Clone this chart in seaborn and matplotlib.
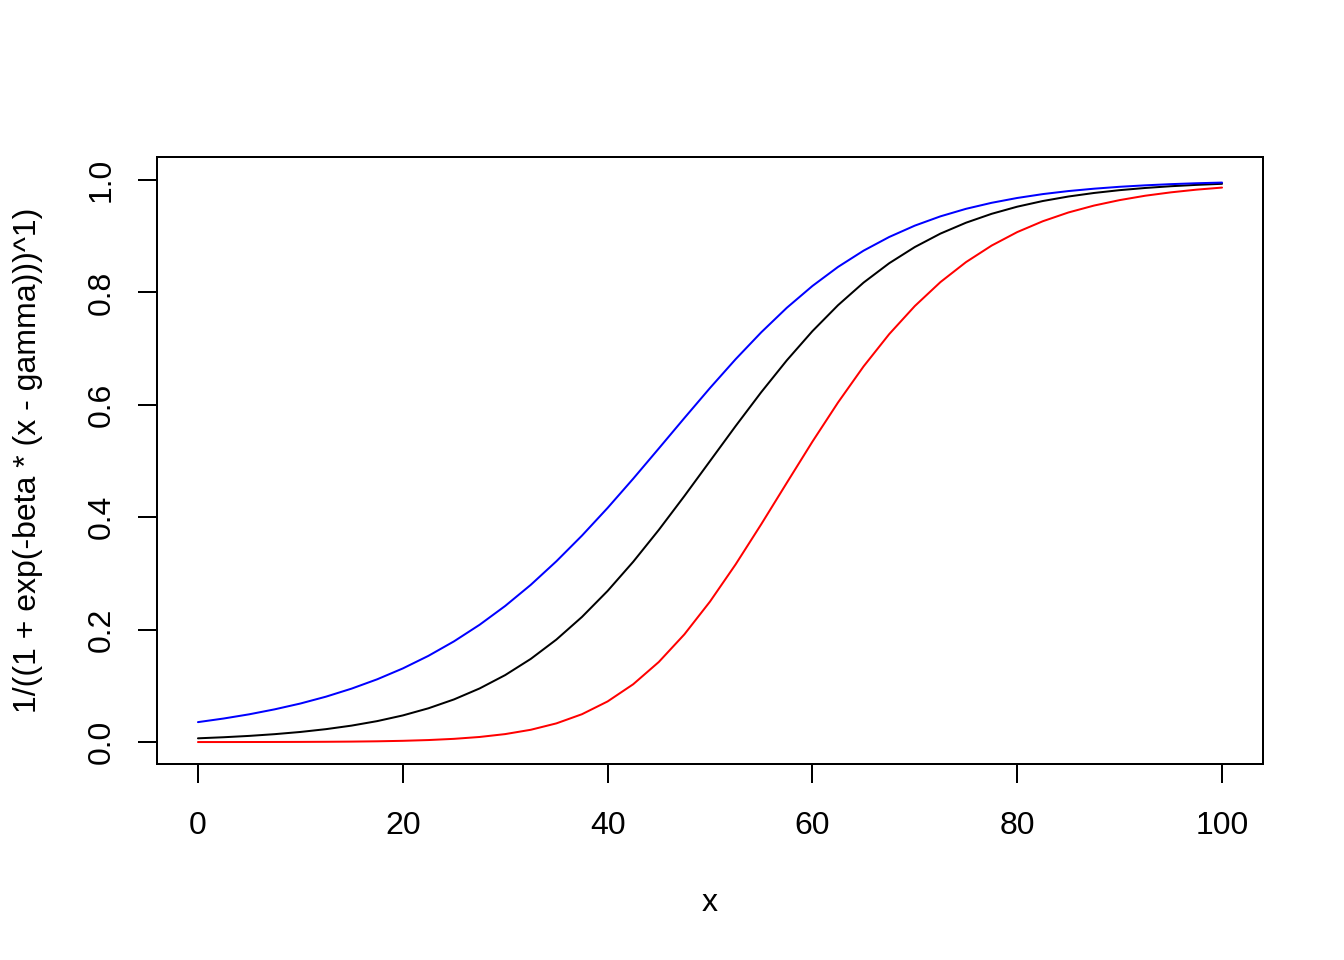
import matplotlib
matplotlib.use("Agg")
import matplotlib.pyplot as plt
import seaborn as sns
import pandas as pd

# values (x step 2.5)
x_vals = [0, 2.5, 5, 7.5, 10, 12.5, 15, 17.5, 20, 22.5, 25, 27.5, 30, 32.5, 35, 37.5, 40, 42.5, 45, 47.5,
          50, 52.5, 55, 57.5, 60, 62.5, 65, 67.5, 70, 72.5, 75, 77.5, 80, 82.5, 85, 87.5, 90, 92.5, 95, 97.5, 100]
black_vals = [0.0067, 0.0086, 0.0110, 0.0141, 0.0180, 0.0230, 0.0293, 0.0373, 0.0474, 0.0601, 0.0759,
              0.0954, 0.1192, 0.1480, 0.1824, 0.2227, 0.2689, 0.3208, 0.3775, 0.4378, 0.5000,
              0.5622, 0.6225, 0.6792, 0.7311, 0.7773, 0.8176, 0.8520, 0.8808, 0.9047, 0.9241,
              0.9399, 0.9526, 0.9627, 0.9707, 0.9770, 0.9820, 0.9859, 0.9890, 0.9914, 0.9933]
red_vals = [0.00005, 0.00007, 0.00012, 0.00020, 0.00032, 0.00053, 0.00086, 0.00139, 0.00225, 0.00361, 0.00576,
            0.00909, 0.01421, 0.02190, 0.03327, 0.04960, 0.0723, 0.1029, 0.1425, 0.1917, 0.2500,
            0.3161, 0.3875, 0.4613, 0.5345, 0.6042, 0.6685, 0.7259, 0.7758, 0.8184, 0.8540,
            0.8834, 0.9074, 0.9267, 0.9423, 0.9546, 0.9643, 0.9721, 0.9781, 0.9829, 0.9866]
blue_vals = [0.0355, 0.0419, 0.0494, 0.0583, 0.0686, 0.0808, 0.0951, 0.1117, 0.1310, 0.1534, 0.1792,
             0.2087, 0.2422, 0.2798, 0.3217, 0.3674, 0.4166, 0.4686, 0.5224, 0.5766, 0.6300,
             0.6812, 0.7290, 0.7727, 0.8115, 0.8454, 0.8744, 0.8987, 0.9189, 0.9354, 0.9488,
             0.9595, 0.9681, 0.9750, 0.9804, 0.9846, 0.9880, 0.9906, 0.9927, 0.9943, 0.9955]
x_ticks = [0, 20, 40, 60, 80, 100]
y_ticks = [0.0, 0.2, 0.4, 0.6, 0.8, 1.0]
y_tick_labels = ["0.0", "0.2", "0.4", "0.6", "0.8", "1.0"]

sns.set_style("white")
plt.rcParams['font.family'] = ['Liberation Sans', 'DejaVu Sans']

fig = plt.figure(figsize=(7, 5), dpi=192)
ax = fig.add_axes([157 / 1344, 1 - 764 / 960, (1263 - 157) / 1344, (764 - 157) / 960])

df = pd.DataFrame({"x": x_vals, "black": black_vals, "red": red_vals, "blue": blue_vals})
for col in ["black", "red", "blue"]:
    sns.lineplot(data=df, x="x", y=col, color=col, linewidth=0.75, ax=ax, estimator=None, sort=True)

ax.set_xlim(-4, 104)
ax.set_ylim(-0.039, 1.041)
ax.set_xticks(x_ticks)
ax.set_xticklabels([str(t) for t in x_ticks])
ax.set_yticks(y_ticks)
ax.set_yticklabels(y_tick_labels, rotation=90, va="center")

ax.tick_params(axis="both", direction="out", length=7.2, width=0.75, color="black",
               labelsize=12, labelcolor="black", bottom=True, left=True)
ax.tick_params(axis="x", pad=10.5)
ax.tick_params(axis="y", pad=8)

for s in ax.spines.values():
    s.set_visible(True)
    s.set_color("black")
    s.set_linewidth(0.75)

ax.set_xlabel("x", fontsize=12, color="black")
ax.set_ylabel("1/((1 + exp(-beta * (x - gamma)))^1)", fontsize=12, color="black")
ax.xaxis.set_label_coords(0.5, -139 / 607)
ax.xaxis.label.set_va("center")
ax.yaxis.set_label_coords(-129 / 1106, 0.5)
ax.yaxis.label.set_va("center")

fig.savefig("out.png", dpi=192, facecolor="white")
